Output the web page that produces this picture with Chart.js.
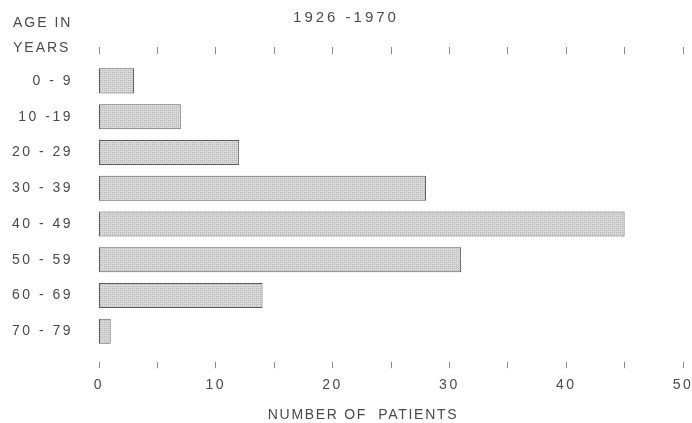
<!DOCTYPE html>
<html>
<head>
<meta charset="utf-8">
<script src="https://cdn.jsdelivr.net/npm/chart.js@4"></script>
<style>
  html, body { margin: 0; padding: 0; background: #fff; }
  #wrap { width: 692px; height: 423px; }
</style>
</head>
<body>
<div id="wrap"><canvas id="ageChart" width="692" height="423"></canvas></div>
<script>
const ageGroups = ['0 - 9', '10 -19', '20 - 29', '30 - 39', '40 - 49', '50 - 59', '60 - 69', '70 - 79'];
const patients = [3, 7, 12, 28, 45, 31, 14, 1];
const xTicks = [0, 10, 20, 30, 40, 50];
const periodLabel = '1926 -1970';
const yTitleLines = ['AGE IN', 'YEARS'];
const xTitle = 'NUMBER OF  PATIENTS';

const textColor = '#4a4a4a';
const fontFamily = '"Liberation Sans", Arial, Helvetica, sans-serif';

// stippled grey fill like the printed bars
function stipple() {
    const c = document.createElement('canvas');
    c.width = 2;
    c.height = 2;
    const g = c.getContext('2d');
    g.fillStyle = '#d8d8d8';
    g.fillRect(0, 0, 2, 2);
    g.fillStyle = '#b8b8b8';
    g.fillRect(0, 0, 1, 1);
    return g.createPattern(c, 'repeat');
}

// wide letter spacing of the lettering
const spacing = {
    id: 'spacing',
    beforeUpdate(chart) { chart.ctx.letterSpacing = '2.5px'; },
    beforeDraw(chart) { chart.ctx.letterSpacing = '2.5px'; }
};

// free texts: axis captions and the period heading
const cornerText = {
    id: 'cornerText',
    afterDraw(chart) {
        const ctx = chart.ctx;
        ctx.save();
        ctx.fillStyle = textColor;
        ctx.textBaseline = 'middle';
        ctx.font = '14px ' + fontFamily;
        ctx.letterSpacing = '2px';
        ctx.textAlign = 'left';
        ctx.fillText(yTitleLines[0], 13, 23);
        ctx.fillText(yTitleLines[1], 13, 48);
        ctx.letterSpacing = '1.7px';
        ctx.textAlign = 'center';
        ctx.fillText(xTitle, 363, 415);
        ctx.font = '15px ' + fontFamily;
        ctx.letterSpacing = '3px';
        ctx.fillText(periodLabel, 346, 18);
        ctx.restore();
    }
};

const tickGrid = {
    display: true,
    drawOnChartArea: false,
    drawTicks: true,
    color: '#8a8a8a',
    lineWidth: 1
};

// keep the chart area edges where the printed axis sits
function noEdgePadding(scale) {
    scale.paddingLeft = 0;
    scale.paddingRight = 0;
}

new Chart(document.getElementById('ageChart'), {
    type: 'bar',
    data: {
        labels: ageGroups,
        datasets: [{
            data: patients,
            backgroundColor: stipple(),
            borderColor: '#5a5a5a',
            borderWidth: 1,
            borderSkipped: false,
            barPercentage: 0.7,
            categoryPercentage: 1
        }]
    },
    options: {
        indexAxis: 'y',
        responsive: false,
        animation: false,
        layout: { padding: { top: 47, right: 9, bottom: 20, left: 0 } },
        plugins: {
            legend: { display: false },
            tooltip: { enabled: false },
            title: { display: false }
        },
        scales: {
            y: {
                position: 'left',
                grid: { display: false, drawTicks: false },
                border: { display: false },
                ticks: {
                    color: textColor,
                    font: { size: 14, family: fontFamily },
                    padding: 26,
                    crossAlign: 'near'
                },
                afterFit(scale) { scale.width = 99; }
            },
            // spacer between bars and the bottom tick row
            xGap: {
                type: 'linear', axis: 'x', position: 'bottom', weight: 1,
                min: 0, max: 50,
                grid: { display: false, drawTicks: false },
                border: { display: false },
                ticks: { display: false },
                afterFit(scale) { scale.height = 13; noEdgePadding(scale); }
            },
            x: {
                type: 'linear', position: 'bottom', weight: 2,
                min: 0, max: 50,
                grid: Object.assign({ tickLength: 6 }, tickGrid),
                border: { display: false },
                ticks: {
                    stepSize: 5,
                    color: textColor,
                    font: { size: 14, family: fontFamily },
                    padding: 9,
                    maxRotation: 0,
                    callback: v => xTicks.includes(v) ? String(v) : ''
                },
                afterFit: noEdgePadding
            },
            // spacer and tick row above the bars
            xTopGap: {
                type: 'linear', axis: 'x', position: 'top', weight: 1,
                min: 0, max: 50,
                grid: { display: false, drawTicks: false },
                border: { display: false },
                ticks: { display: false },
                afterFit(scale) { scale.height = 9; noEdgePadding(scale); }
            },
            xTop: {
                type: 'linear', axis: 'x', position: 'top', weight: 2,
                min: 0, max: 50,
                grid: Object.assign({ tickLength: 7 }, tickGrid),
                border: { display: false },
                ticks: { display: false, stepSize: 5 },
                afterFit: noEdgePadding
            }
        }
    },
    plugins: [spacing, cornerText]
});
</script>
</body>
</html>
